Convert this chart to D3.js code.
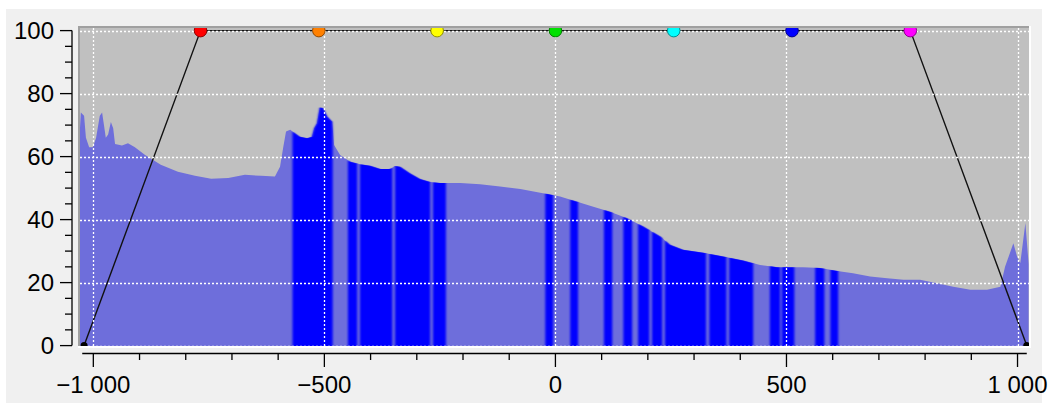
<!DOCTYPE html>
<html>
<head>
<meta charset="utf-8" />
<script src="https://d3js.org/d3.v7.min.js"></script>
<style>
    body { margin: 0; background: #ffffff; }
    svg text { font-family: "Liberation Sans", Arial, sans-serif; font-size: 24px; fill: #000; }
</style>
</head>
<body>
<svg id="chart" width="1049" height="403"></svg>
<script>
    // ---- histogram envelope (value position, height in %) ----
    var envX = [-1030, -1027, -1020, -1016, -1009, -1001, -994, -986, -981, -977, -973, -968,
        -962, -957, -953, -938, -925, -910, -888, -854, -817, -780, -745, -708, -672, -637,
        -607, -596, -589, -583, -574, -553, -537, -527, -522, -516, -510, -503, -494, -483,
        -479, -466, -444, -423, -401, -379, -358, -347, -336, -315, -293, -271, -250, -206,
        -163, -120, -76, -27, 10, 47, 82, 118, 155, 190, 227, 248, 276, 320, 363, 406, 443,
        480, 508, 536, 573, 610, 644, 681, 718, 753, 789, 826, 861, 898, 934, 963, 973, 991,
        999, 1006, 1017, 1024];
    var envY = [66, 74, 73, 66, 63, 63, 66, 73, 74, 70, 66, 67,
        71, 69, 64, 63.5, 64.2, 63, 60.5, 57.4, 55.2, 53.9, 53, 53.2, 54.2, 53.9,
        53.7, 56.8, 63, 68, 68.5, 66.3, 65.8, 66.3, 69, 70.6, 75.6, 75.4, 72.7, 71.1,
        63.7, 60.5, 58.4, 57.6, 57.1, 56.1, 56.1, 57, 56.8, 54.7, 52.9, 51.9, 51.6, 51.6,
        51.2, 50.5, 49.7, 48.4, 47.3, 45.7, 44.1, 42.5, 40.4, 37.8, 34.6, 32, 30.4, 29.5, 28.3, 27, 25.6,
        24.9, 24.9, 24.9, 24.6, 23.7, 23, 21.9, 21.4, 20.9, 20.9, 19.8, 18.7, 17.7, 17.7, 18.7, 25, 32.5,
        28.3, 26.2, 38.9, 26];

    // ---- ranges drawn in saturated blue ----
    var darkBands = [[-569, -482], [-449, -429], [-423, -353], [-347, -271], [-265, -237],
        [-22, -5], [32, 49], [105, 123], [147, 166], [179, 203], [209, 231], [237, 326],
        [333, 370], [376, 428], [464, 486], [490, 517], [562, 582], [595, 612]];

    // ---- transfer curve and colour markers ----
    var curveX = [-1020, -768, -512, -256, 0, 256, 512, 768, 1020];
    var curveY = [0, 100, 100, 100, 100, 100, 100, 100, 0];
    var markerX = [-768, -512, -256, 0, 256, 512, 768];
    var markerColors = ["#ff0000", "#ff8000", "#ffff00", "#00e000", "#00ffff", "#0000ff", "#ff00ff"];

    // ---- axes ----
    var xTicks = [-1000, -500, 0, 500, 1000];
    var xTickLabels = ["\u22121 000", "\u2212500", "0", "500", "1 000"];
    var yTicks = [0, 20, 40, 60, 80, 100];

    var svg = d3.select("#chart");
    var x = d3.scaleLinear().domain([-1031, 1027]).range([79, 1030]);
    var y = d3.scaleLinear().domain([0, 100]).range([345.6, 30.6]);
    var plot = {left: 80, top: 28, right: 1029, bottom: 346};

    // fond
    svg.append("rect").attr("x", 6).attr("y", 9).attr("width", 1036).attr("height", 394).attr("fill", "#f0f0f0");

    // cadre (effet creux)
    svg.append("rect").attr("x", 78).attr("y", 26).attr("width", 953).attr("height", 322).attr("fill", "#ffffff");
    svg.append("rect").attr("x", 78).attr("y", 26).attr("width", 951).attr("height", 320).attr("fill", "#a0a0a0");
    svg.append("rect").attr("x", plot.left).attr("y", plot.top)
        .attr("width", plot.right - plot.left).attr("height", plot.bottom - plot.top).attr("fill", "#c0c0c0");

    var defs = svg.append("defs");
    defs.append("clipPath").attr("id", "plotClip").append("rect")
        .attr("x", plot.left).attr("y", plot.top)
        .attr("width", plot.right - plot.left).attr("height", plot.bottom - plot.top);
    defs.append("clipPath").attr("id", "darkClip").selectAll("rect")
        .data(darkBands).enter().append("rect")
        .attr("x", d => x(d[0])).attr("y", plot.top)
        .attr("width", d => x(d[1]) - x(d[0])).attr("height", plot.bottom - plot.top);
    defs.append("filter").attr("id", "soft")
        .attr("x", "-5%").attr("y", "-5%").attr("width", "110%").attr("height", "110%")
        .append("feGaussianBlur").attr("stdDeviation", "0.9 0.3");

    var g = svg.append("g").attr("clip-path", "url(#plotClip)");

    // histogramme
    var area = d3.area()
        .x((d, i) => x(envX[i]))
        .y0(y(0) + 2)
        .y1((d, i) => y(envY[i]));
    g.append("path").datum(envX).attr("d", area).attr("fill", "#6e6edb");
    g.append("g").attr("filter", "url(#soft)")
        .append("g").attr("clip-path", "url(#darkClip)")
        .append("path").datum(envX).attr("d", area).attr("fill", "#0000ff");

    // courbe de transfert
    var line = d3.line().x((d, i) => x(curveX[i])).y((d, i) => y(curveY[i]));
    g.append("path").datum(curveX).attr("d", line)
        .attr("fill", "none").attr("stroke", "#111").attr("stroke-width", 1.4);

    // grille
    g.selectAll(".gx").data(xTicks).enter().append("line")
        .attr("x1", d => Math.round(x(d)) + 0.5).attr("x2", d => Math.round(x(d)) + 0.5)
        .attr("y1", plot.top).attr("y2", plot.bottom)
        .attr("stroke", "#ffffff").attr("stroke-dasharray", "2,2").attr("stroke-width", 1.3);
    g.selectAll(".gy").data(yTicks).enter().append("line")
        .attr("y1", d => Math.round(y(d)) + 0.5).attr("y2", d => Math.round(y(d)) + 0.5)
        .attr("x1", plot.left).attr("x2", plot.right)
        .attr("stroke", "#ffffff").attr("stroke-dasharray", "2,2").attr("stroke-width", 1.3);

    // marqueurs
    g.selectAll(".mk").data(markerX).enter().append("circle")
        .attr("cx", d => x(d)).attr("cy", y(100)).attr("r", 6.3)
        .attr("fill", (d, i) => markerColors[i])
        .attr("stroke", (d, i) => d3.rgb(markerColors[i]).darker(1.6))
        .attr("stroke-width", 1);
    g.selectAll(".ep").data([curveX[0], curveX[curveX.length - 1]]).enter().append("circle")
        .attr("cx", d => x(d)).attr("cy", y(0)).attr("r", 3.5).attr("fill", "#000");

    // axe Y
    var ya = svg.append("g").attr("stroke", "#000").attr("stroke-width", 1.3);
    ya.append("line").attr("x1", 72).attr("x2", 72).attr("y1", y(100)).attr("y2", y(0));
    ya.selectAll(".ty").data(d3.range(0, 101, 5)).enter().append("line")
        .attr("y1", d => y(d)).attr("y2", d => y(d))
        .attr("x1", d => d % 20 === 0 ? 60 : 65).attr("x2", 72);
    svg.selectAll(".ly").data(yTicks).enter().append("text")
        .attr("x", 54).attr("y", d => y(d)).attr("dy", "0.36em")
        .attr("text-anchor", "end").text(d => d);

    // axe X
    var xa = svg.append("g").attr("stroke", "#000").attr("stroke-width", 1.3);
    xa.append("line").attr("x1", x(-1024)).attr("x2", x(1020)).attr("y1", 353.5).attr("y2", 353.5);
    xa.selectAll(".tx").data(d3.range(-1000, 1001, 100)).enter().append("line")
        .attr("x1", d => x(d)).attr("x2", d => x(d))
        .attr("y1", 353.5).attr("y2", d => d % 500 === 0 ? 367 : 360);
    svg.selectAll(".lx").data(xTicks).enter().append("text")
        .attr("x", d => x(d)).attr("y", 393)
        .attr("text-anchor", "middle").text((d, i) => xTickLabels[i]);
</script>
</body>
</html>
